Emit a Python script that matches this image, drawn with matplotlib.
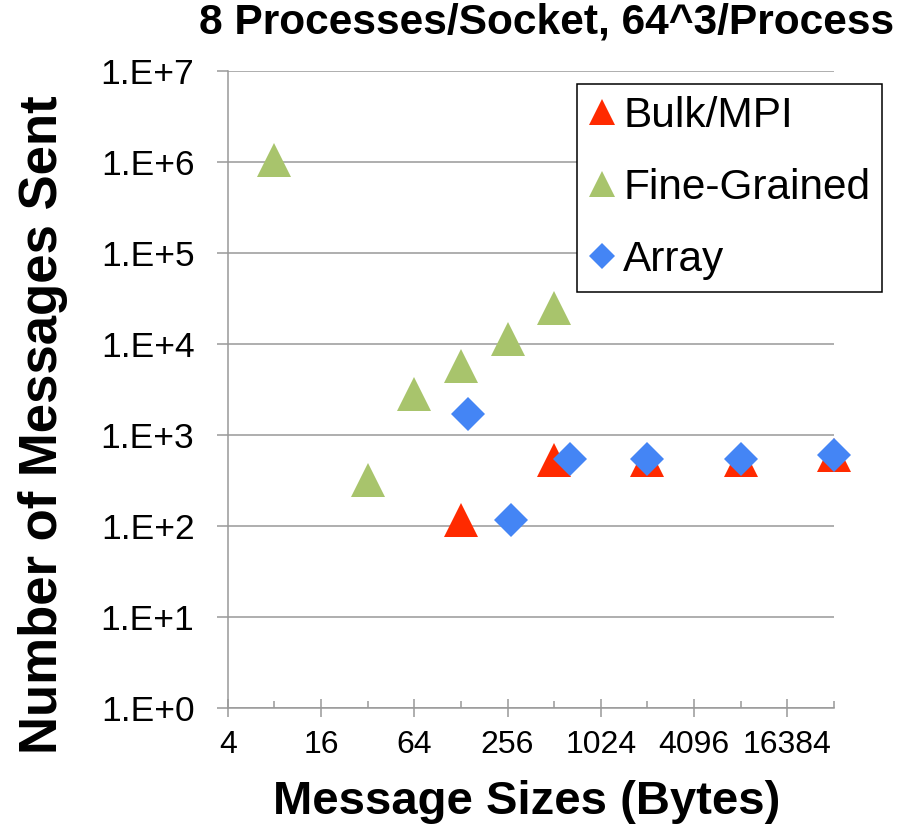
import numpy as np
import matplotlib
matplotlib.use("Agg")
import matplotlib.pyplot as plt
from matplotlib.ticker import FixedLocator, FuncFormatter, NullFormatter

plt.rcParams['font.family'] = ['Liberation Sans', 'DejaVu Sans']

# message size (bytes) vs number of messages sent
bulk_x = [128, 512, 2048, 8192, 32768]
bulk_y = [117, 536, 536, 536, 598]

fine_x = [8, 32, 64, 128, 256, 512]
fine_y = [1.05e6, 318, 2800, 5700, 11500, 25000]

array_x = [142, 270, 645, 2048, 8192, 32768]
array_y = [1690, 117, 540, 540, 540, 598]

x_major = [4, 16, 64, 256, 1024, 4096, 16384]
x_minor = [8, 32, 128, 512, 2048, 8192, 32768]
y_major = [1e0, 1e1, 1e2, 1e3, 1e4, 1e5, 1e6, 1e7]

grey = '#999999'


def main():
    fig = plt.figure(figsize=(9.12, 8.31), dpi=100)
    ax = fig.add_axes([0.2497, 0.1480, 0.6648, 0.7665])

    ax.plot(bulk_x, bulk_y, linestyle='none', marker='^', ms=25,
            color='#FF2A00', mew=0, label='Bulk/MPI', zorder=3, clip_on=False)
    ax.plot(fine_x, fine_y, linestyle='none', marker='^', ms=25,
            color='#A8C46C', mew=0, label='Fine-Grained', zorder=4, clip_on=False)
    ax.plot(array_x, array_y, linestyle='none', marker='D', ms=17.8,
            color='#4485F5', mew=0, label='Array', zorder=5, clip_on=False)

    ax.set_xscale('log', base=2)
    ax.set_yscale('log')
    ax.set_xlim(4, 32768)
    ax.set_ylim(1, 1e7)

    ax.xaxis.set_major_locator(FixedLocator(x_major))
    ax.xaxis.set_minor_locator(FixedLocator(x_minor))
    ax.xaxis.set_major_formatter(FuncFormatter(lambda v, p: f"{int(round(v))}"))
    ax.xaxis.set_minor_formatter(NullFormatter())
    ax.yaxis.set_major_locator(FixedLocator(y_major))
    ax.yaxis.set_minor_locator(FixedLocator([]))
    ax.yaxis.set_major_formatter(
        FuncFormatter(lambda v, p: f"1.E+{int(round(np.log10(v)))}"))

    ax.tick_params(axis='x', which='major', direction='inout', length=13,
                   width=1.1, color=grey, labelsize=23, pad=9)
    ax.tick_params(axis='x', which='minor', direction='in', length=5.4,
                   width=1.1, color=grey)
    ax.tick_params(axis='y', which='major', direction='out', length=8,
                   width=1.1, color=grey, labelsize=25.5, pad=16)

    ax.grid(axis='y', which='major', color=grey, linewidth=1.1)
    ax.set_axisbelow(True)
    for side in ['top', 'right']:
        ax.spines[side].set_visible(False)
    for side in ['left', 'bottom']:
        ax.spines[side].set_color(grey)
        ax.spines[side].set_linewidth(1.1)

    fig.text(547 / 912, 1 - 22 / 831, "8 Processes/Socket, 64^3/Process",
             ha='center', va='center', fontsize=30.6, fontweight='bold')
    fig.text(43 / 912, 1 - 425 / 831, "Number of Messages Sent",
             ha='center', va='center', rotation=90, fontsize=38,
             fontweight='bold')
    fig.text(527 / 912, 1 - 802 / 831, "Message Sizes (Bytes)",
             ha='center', va='center', fontsize=34, fontweight='bold')

    leg = ax.legend(loc='upper right', bbox_to_anchor=(882 / 912, 1 - 84 / 831),
                    bbox_transform=fig.transFigure, borderaxespad=0,
                    fontsize=30.5, markerscale=0.74, fancybox=False,
                    framealpha=1, edgecolor='black', handlelength=0.6,
                    handletextpad=0.2, borderpad=0.28, labelspacing=0.76)
    leg.get_frame().set_linewidth(1.1)
    leg.set_zorder(10)

    fig.savefig("out.png", dpi=100)


if __name__ == "__main__":
    main()
